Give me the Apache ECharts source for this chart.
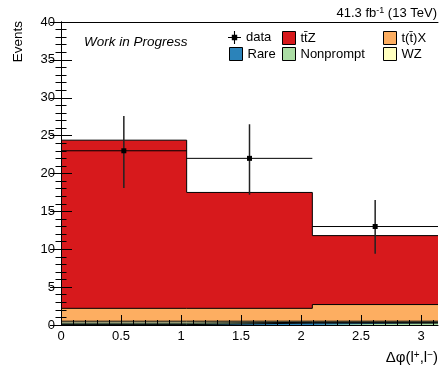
<!DOCTYPE html>
<html>
<head>
<meta charset="utf-8">
<script src="https://cdn.jsdelivr.net/npm/echarts@6/dist/echarts.min.js"></script>
<style>
  html, body { margin: 0; padding: 0; background: #fff; }
  #chart { width: 440px; height: 368px; }
</style>
</head>
<body>
<div id="chart"></div>
<script>
// ---- data ----
const binLo = [0, 1.0472, 2.0944];
const binHi = [1.0472, 2.0944, 3.1416];
const binCenter = [0.5236, 1.5708, 2.618];

const dataY = [23, 22, 13];
const dataLo = [18.1, 17.2, 9.4];
const dataHi = [27.6, 26.5, 16.5];

// stacked MC components, bottom to top
const rare = [0.05, 0.25, 0.25];
const nonprompt = [0.2, 0.1, 0.1];
const wz = [0.25, 0.15, 0.15];
const tX = [1.7, 1.7, 2.2];
const ttZ = [22.2, 15.3, 9.1];

const xMajorTicks = [0, 0.5, 1, 1.5, 2, 2.5, 3];
const xMinorTicks = [0.1, 0.2, 0.3, 0.4, 0.6, 0.7, 0.8, 0.9, 1.1, 1.2, 1.3, 1.4,
                     1.6, 1.7, 1.8, 1.9, 2.1, 2.2, 2.3, 2.4, 2.6, 2.7, 2.8, 2.9, 3.1];
const yMin = 0, yMax = 40, yInterval = 5;

// ---- build ----
const FONT = "'Liberation Sans', Arial, Helvetica, sans-serif";
const chart = echarts.init(document.getElementById('chart'), null, { renderer: 'canvas' });

const components = [
  { name: 'Rare', values: rare, color: '#2b83ba' },
  { name: 'Nonprompt', values: nonprompt, color: '#abdda4' },
  { name: 'WZ', values: wz, color: '#ffffbf' },
  { name: 't(t\u0304)X', values: tX, color: '#fdae61' },
  { name: 'tt\u0304Z', values: ttZ, color: '#d7191c' }
];
// cumulative tops
let running = binLo.map(() => 0);
components.forEach(c => {
  running = running.map((r, i) => r + c.values[i]);
  c.top = running.slice();
});

function stepData(v) {
  const pts = [];
  for (let i = 0; i < v.length; i++) pts.push([binLo[i], v[i]]);
  pts.push([binHi[v.length - 1], v[v.length - 1]]);
  return pts;
}

function mcSeries(c) {
  return {
    name: c.name,
    type: 'line',
    step: 'end',
    symbol: 'none',
    data: stepData(c.top),
    itemStyle: { color: c.color },
    lineStyle: { color: '#000', width: 1 },
    areaStyle: { color: c.color, opacity: 1, origin: 'start' },
    emphasis: { disabled: true },
    silent: true,
    z: 2
  };
}

const dataPoints = binCenter.map((x, i) => [x, dataY[i], dataLo[i], dataHi[i], binLo[i], binHi[i]]);

function legendFor(name, left, top, icon, isData) {
  return {
    data: [{ name: name, icon: icon }],
    left: left,
    top: top,
    padding: 0,
    orient: 'horizontal',
    itemWidth: 13,
    itemHeight: 13,
    selectedMode: false,
    itemStyle: isData ? { borderWidth: 0 } : { borderColor: '#000', borderWidth: 1 },
    textStyle: { fontSize: 13, color: '#000', fontFamily: FONT }
  };
}

const axisLineStyle = { color: '#000', width: 1 };

const option = {
  animation: false,
  backgroundColor: '#fff',
  grid: { left: 61, right: 2, top: 22, bottom: 43, containLabel: false },
  xAxis: [
    {
      type: 'value', position: 'bottom', min: 0, max: binHi[binHi.length - 1], interval: 0.5,
      z: 10,
      axisLine: { show: true, lineStyle: axisLineStyle },
      axisTick: { show: true, inside: true, length: 10, lineStyle: axisLineStyle, customValues: xMajorTicks },
      axisLabel: { show: true, margin: 5, color: '#000', fontSize: 13, fontFamily: FONT, customValues: xMajorTicks },
      splitLine: { show: false }
    },
    {
      type: 'value', position: 'bottom', min: 0, max: binHi[binHi.length - 1], interval: 0.5,
      z: 10,
      axisLine: { show: false },
      axisTick: { show: true, inside: true, length: 5, lineStyle: axisLineStyle, customValues: xMinorTicks },
      axisLabel: { show: false },
      splitLine: { show: false }
    },
    {
      type: 'value', position: 'top', min: 0, max: binHi[binHi.length - 1], interval: 0.5,
      z: 10,
      axisLine: { show: true, lineStyle: axisLineStyle },
      axisTick: { show: false },
      axisLabel: { show: false },
      splitLine: { show: false }
    }
  ],
  yAxis: [
    {
      type: 'value', position: 'left', min: yMin, max: yMax, interval: yInterval,
      z: 10,
      axisLine: { show: true, lineStyle: axisLineStyle },
      axisTick: { show: true, inside: true, length: 11, lineStyle: axisLineStyle },
      minorTick: { show: true, splitNumber: 5, length: 5.5, lineStyle: axisLineStyle },
      axisLabel: { show: true, margin: 6, color: '#000', fontSize: 13, fontFamily: FONT },
      splitLine: { show: false },
      minorSplitLine: { show: false }
    },
    {
      type: 'value', position: 'right', min: yMin, max: yMax, interval: yInterval,
      z: 10,
      axisLine: { show: true, lineStyle: axisLineStyle },
      axisTick: { show: true, inside: true, length: 11, lineStyle: axisLineStyle },
      minorTick: { show: true, splitNumber: 5, length: 5.5, lineStyle: axisLineStyle },
      axisLabel: { show: false },
      splitLine: { show: false },
      minorSplitLine: { show: false }
    }
  ],
  legend: [
    legendFor('data', 228, 31, 'path://M0,5.5H12V6.5H0Z M5.5,0H6.5V12H5.5Z M3.5,3.5H8.5V8.5H3.5Z', true),
    legendFor('tt\u0304Z', 282, 31, 'rect', false),
    legendFor('t(t\u0304)X', 383, 31, 'rect', false),
    legendFor('Rare', 229, 47, 'rect', false),
    legendFor('Nonprompt', 282, 47, 'rect', false),
    legendFor('WZ', 383, 47, 'rect', false)
  ],
  series: components.slice().reverse().map(mcSeries).concat([
    {
      name: 'data',
      type: 'custom',
      xAxisIndex: 0,
      yAxisIndex: 0,
      itemStyle: { color: '#000' },
      encode: { x: 0, y: [1, 2, 3] },
      data: dataPoints,
      z: 5,
      silent: true,
      renderItem: function (params, api) {
        const x = api.value(0), y = api.value(1), lo = api.value(2), hi = api.value(3);
        const x0 = api.value(4), x1 = api.value(5);
        const c = api.coord([x, y]);
        const pLo = api.coord([x, lo]);
        const pHi = api.coord([x, hi]);
        const pL = api.coord([x0, y]);
        const pR = api.coord([x1, y]);
        return {
          type: 'group',
          children: [
            { type: 'line', shape: { x1: pL[0], y1: pL[1], x2: pR[0], y2: pR[1] }, style: { stroke: '#000', lineWidth: 1 } },
            { type: 'line', shape: { x1: pHi[0], y1: pHi[1], x2: pLo[0], y2: pLo[1] }, style: { stroke: '#222', lineWidth: 1.5 } },
            { type: 'rect', shape: { x: c[0] - 2.5, y: c[1] - 2.5, width: 5, height: 5 }, style: { fill: '#000' } }
          ]
        };
      }
    }
  ]),
  graphic: [
    {
      type: 'text', x: 437, y: 13, z: 20,
      style: {
        text: '41.3 fb{sup|-1} (13 TeV)',
        align: 'right', verticalAlign: 'middle',
        fontSize: 13, fontFamily: FONT, fill: '#000',
        rich: { sup: { fontSize: 9, fontFamily: FONT, verticalAlign: 'top', fill: '#000' } }
      }
    },
    {
      type: 'text', x: 84, y: 42, z: 20,
      style: {
        text: 'Work in Progress',
        align: 'left', verticalAlign: 'middle',
        fontSize: 13.5, fontStyle: 'italic', fontFamily: FONT, fill: '#000'
      }
    },
    {
      type: 'text', x: 18.5, y: 21, rotation: Math.PI / 2, z: 20,
      style: {
        text: 'Events',
        align: 'right', verticalAlign: 'middle',
        fontSize: 13.5, fontFamily: FONT, fill: '#000'
      }
    },
    {
      type: 'text', x: 438, y: 358, z: 20,
      style: {
        text: '\u0394\u03c6(l{sup|+},l{sup|\u2212})',
        align: 'right', verticalAlign: 'middle',
        fontSize: 15, fontFamily: FONT, fill: '#000',
        rich: { sup: { fontSize: 10, fontFamily: FONT, verticalAlign: 'top', fill: '#000' } }
      }
    }
  ]
};

chart.setOption(option);
</script>
</body>
</html>
